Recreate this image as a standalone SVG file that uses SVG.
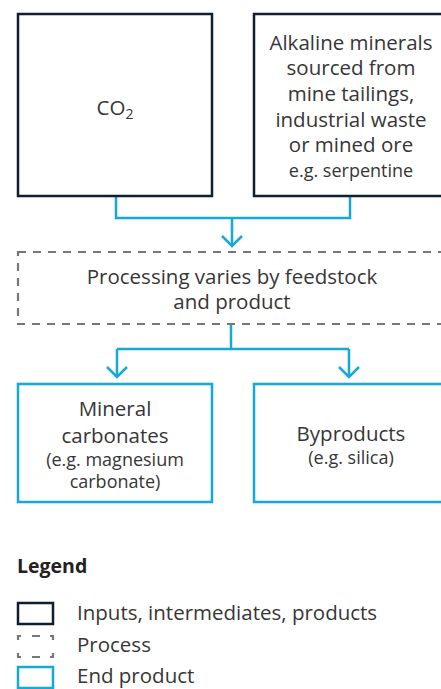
<svg xmlns="http://www.w3.org/2000/svg" width="441" height="689" viewBox="0 0 441 689">
  <style>
    text { font-family: "Open Sans", "Noto Sans", "Liberation Sans", sans-serif; fill: #363636; text-anchor: middle; }
    .t { font-size: 20.5px; }
    .s { font-size: 18px; }
    .input { fill: #fff; stroke: #0f1e30; stroke-width: 2.5; }
    .process { fill: #fff; stroke: #76777a; stroke-width: 2.2; stroke-dasharray: 8 7; }
    .dash { fill: none; stroke: #76777a; stroke-width: 2.2; }
    .end { fill: #fff; stroke: #14a9d9; stroke-width: 2.5; }
    .conn { fill: none; stroke: #14a9d9; stroke-width: 2.5; }
    .lg { text-anchor: start; font-size: 20.5px; }
  </style>
  <rect width="441" height="689" fill="#fff"/>

  <!-- connectors -->
  <g id="connectors">
    <path class="conn" d="M116 196 V218 H350 V196 M232 218 V246"/>
    <path class="conn" d="M222 236 L232 246 L242 236"/>
    <path class="conn" d="M231 325 V349 M117 349 H349 M117 349 V377 M349 349 V377"/>
    <path class="conn" d="M107 367 L117 377 L127 367 M339 367 L349 377 L359 367"/>
  </g>

  <g id="co2">
    <rect class="input" x="18" y="14" width="194" height="182"/>
    <text class="t" x="115" y="115">CO<tspan font-size="14" dy="4">2</tspan></text>
  </g>

  <g id="minerals">
    <rect class="input" x="254" y="14" width="200" height="182"/>
    <text class="t" x="351" y="50">Alkaline minerals</text>
    <text class="t" x="351" y="75">sourced from</text>
    <text class="t" x="351" y="101">mine tailings,</text>
    <text class="t" x="351" y="127">industrial waste</text>
    <text class="t" x="351" y="152">or mined ore</text>
    <text class="s" x="351" y="177">e.g. serpentine</text>
  </g>

  <g id="processing">
    <rect class="process" x="18" y="252" width="440" height="72"/>
    <text class="t" x="232" y="284">Processing varies by feedstock</text>
    <text class="t" x="232" y="309">and product</text>
  </g>

  <g id="carbonates">
    <rect class="end" x="18" y="384" width="194" height="118"/>
    <text class="t" x="115" y="416">Mineral</text>
    <text class="t" x="115" y="443">carbonates</text>
    <text class="s" x="115" y="466">(e.g. magnesium</text>
    <text class="s" x="115" y="488">carbonate)</text>
  </g>

  <g id="byproducts">
    <rect class="end" x="254" y="384" width="200" height="118"/>
    <text class="t" x="351" y="441">Byproducts</text>
    <text class="s" x="351" y="464">(e.g. silica)</text>
  </g>

  <g id="legend">
    <text x="17" y="573" style="text-anchor:start;font-size:19.5px;font-weight:bold;fill:#222">Legend</text>
    <rect class="input" x="18" y="603" width="35" height="21"/>
    <text class="lg" x="77" y="620">Inputs, intermediates, products</text>
    <path class="dash" d="M18 640 V636 H21 M32 636 H40 M50 636 H53 V640 M18 653 V657 H21 M32 657 H40 M50 657 H53 V653"/>
    <text class="lg" x="77" y="652">Process</text>
    <rect class="end" x="18" y="667" width="35" height="21"/>
    <text class="lg" x="77" y="683">End product</text>
  </g>
</svg>
